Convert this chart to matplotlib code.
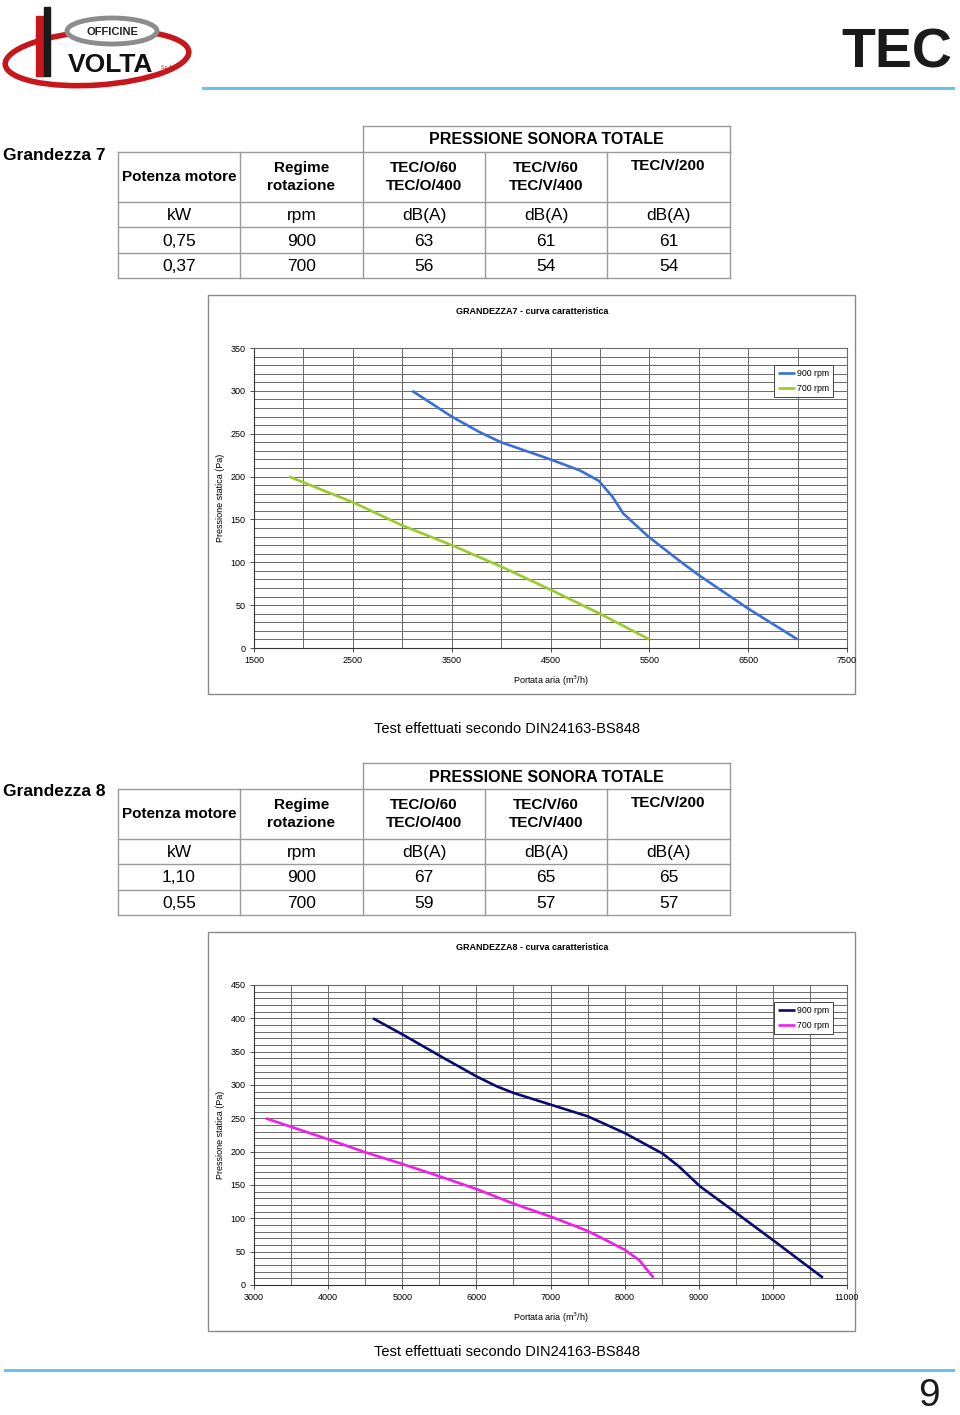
import matplotlib
matplotlib.use("Agg")
import matplotlib.pyplot as plt
from matplotlib.patches import Rectangle, Ellipse

# --- data -------------------------------------------------------------
table_header = ["Potenza motore", "Regime\nrotazione", "TEC/O/60\nTEC/O/400", "TEC/V/60\nTEC/V/400", "TEC/V/200"]
table_units = ["kW", "rpm", "dB(A)", "dB(A)", "dB(A)"]
g7_rows = [["0,75", "900", "63", "61", "61"],
           ["0,37", "700", "56", "54", "54"]]
g8_rows = [["1,10", "900", "67", "65", "65"],
           ["0,55", "700", "59", "57", "57"]]

g7_x900 = [3100, 3500, 3780, 4000, 4500, 4800, 4990, 5130, 5235, 5490, 5790, 6000, 6500, 7000]
g7_y900 = [300, 270, 252, 240, 220, 207, 195, 176, 157, 130, 103, 85, 46, 10]
g7_x700 = [1855, 2500, 3000, 3500, 4000, 4500, 5000, 5500]
g7_y700 = [200, 170, 143, 120, 95, 68, 40, 10]

g8_x900 = [4606, 5017, 5503, 6000, 6274, 6503, 7017, 7503, 8000, 8514, 8731, 9017, 9531, 10017, 10674]
g8_y900 = [400, 375, 344, 313, 298, 288, 270, 253, 228, 197, 178, 148, 106, 66, 11]
g8_x700 = [3160, 3989, 4503, 5017, 5503, 6000, 6503, 7017, 7503, 8000, 8200, 8389]
g8_y700 = [250, 219, 199, 181, 163, 144, 122, 102, 81, 53, 37, 11]

plt.rcParams["font.family"] = ["Liberation Sans", "DejaVu Sans"]

W, H = 960, 1415
fig = plt.figure(figsize=(W / 100, H / 100), dpi=100)
bg = fig.add_axes([0, 0, 1, 1])
bg.set_xlim(0, W)
bg.set_ylim(H, 0)
bg.axis("off")

# --- page header / footer --------------------------------------------
bg.add_patch(Ellipse((97, 58), 184, 54, angle=-4, fill=False, ec="#c8161d", lw=4))
bg.add_patch(Rectangle((36, 16), 8, 60, color="#c8161d"))
bg.add_patch(Rectangle((44, 7), 6, 69, color="#1a1a1a"))
bg.add_patch(Ellipse((112, 31), 90, 26, fc="white", ec="#8c8c8c", lw=3.5))
bg.text(112, 32, "OFFICINE", ha="center", va="center", fontsize=8, fontweight="bold", color="#222222")
bg.text(110, 65, "VOLTA", ha="center", va="center", fontsize=19, fontweight="bold", color="#111111")
bg.text(167, 67, "S.p.A.", ha="center", va="center", fontsize=3.5, color="#c8161d")

bg.text(952, 54, "TEC", ha="right", va="center", fontsize=40, fontweight="bold", color="#1a1a1a")
bg.plot([203, 953], [88, 88], color="#6cc0ea", lw=2.2)
bg.plot([5, 953], [1370, 1370], color="#6cc0ea", lw=2.2)
bg.text(940, 1396, "9", ha="right", va="center", fontsize=28, color="#1a1a1a")

# --- tables -----------------------------------------------------------
cols = [118, 240, 363, 485, 607, 730]
line_c = "#9a9a9a"


def draw_table(y0, title, rows):
    # y0 = top of the "PRESSIONE SONORA TOTALE" box
    bg.text(3, y0 + 29, title, ha="left", va="center", fontsize=12.5, fontweight="bold")
    h_top, h_head = y0 + 26, y0 + 76
    ys = [h_head, h_head + 25, h_head + 51, h_head + 76]
    bg.plot([363, 730], [y0, y0], color=line_c, lw=1)
    bg.plot([363, 363], [y0, h_top], color=line_c, lw=1)
    bg.plot([730, 730], [y0, h_top], color=line_c, lw=1)
    bg.text(546, y0 + 14, "PRESSIONE SONORA TOTALE", ha="center", va="center",
            fontsize=11.5, fontweight="bold")
    for yy in [h_top] + ys:
        bg.plot([cols[0], cols[-1]], [yy, yy], color=line_c, lw=1)
    for xx in cols:
        bg.plot([xx, xx], [h_top, ys[-1]], color=line_c, lw=1)
    for i, lab in enumerate(table_header):
        cx = (cols[i] + cols[i + 1]) / 2
        if "\n" in lab or i == 0:
            bg.text(cx, h_top + 25, lab, ha="center", va="center", fontsize=11,
                    fontweight="bold", linespacing=1.4)
        else:
            bg.text(cx, h_top + 14, lab, ha="center", va="center", fontsize=11,
                    fontweight="bold")
    for r, row in enumerate([table_units] + rows):
        yc = (ys[r] + ys[r + 1]) / 2
        for i, val in enumerate(row):
            cx = (cols[i] + cols[i + 1]) / 2
            bg.text(cx, yc + 1, val, ha="center", va="center", fontsize=12.5)


draw_table(126, "Grandezza 7", g7_rows)
draw_table(763, "Grandezza 8", g8_rows)

bg.text(507, 729, "Test effettuati secondo DIN24163-BS848", ha="center", va="center", fontsize=10.5)
bg.text(507, 1352, "Test effettuati secondo DIN24163-BS848", ha="center", va="center", fontsize=10.5)


# --- charts -----------------------------------------------------------
def draw_chart(box_top, title, xlim, ymax, series):
    bg.add_patch(Rectangle((208, box_top), 647, 399, fill=False, ec="#8a8a8a", lw=1))
    px0, px1 = 254, 847
    py_top, py_bot = box_top + 53, box_top + 353
    ax = fig.add_axes([px0 / W, 1 - py_bot / H, (px1 - px0) / W, (py_bot - py_top) / H])
    ax.set_xlim(*xlim)
    ax.set_ylim(0, ymax)
    ax.set_xticks(range(xlim[0], xlim[1] + 1, 1000))
    ax.set_xticks(range(xlim[0], xlim[1] + 1, 500), minor=True)
    ax.set_yticks(range(0, ymax + 1, 50))
    ax.set_yticks(range(0, ymax + 1, 10), minor=True)
    ax.grid(True, which="both", color="#6a6a6a", lw=0.7)
    ax.set_axisbelow(True)
    for sp in ax.spines.values():
        sp.set_color("#6a6a6a")
        sp.set_linewidth(0.8)
    ax.spines["left"].set_color("#333333")
    ax.spines["bottom"].set_color("#333333")
    ax.tick_params(labelsize=6.5, length=3, width=0.6, color="#333333", pad=3)
    ax.tick_params(which="minor", length=0)
    for x, y, c, lab in series:
        ax.plot(x, y, color=c, lw=1.9, label=lab, solid_capstyle="butt")
    ax.set_xlabel("Portata aria (m$^3$/h)", fontsize=6.5, labelpad=6)
    ax.set_ylabel("Pressione statica (Pa)", fontsize=6.5, labelpad=4)
    bg.text(532, box_top + 16, title, ha="center", va="center", fontsize=6.5, fontweight="bold")
    leg = ax.legend(loc="upper right", bbox_to_anchor=(0.976, 0.943), fontsize=6.3,
                    frameon=True, fancybox=False, handlelength=1.9, handletextpad=0.3,
                    borderpad=0.4, labelspacing=0.75, borderaxespad=0, framealpha=1)
    leg.get_frame().set_edgecolor("#444444")
    leg.get_frame().set_linewidth(0.7)
    return ax


draw_chart(295, "GRANDEZZA7 - curva caratteristica", (1500, 7500), 350,
           [(g7_x900, g7_y900, "#3a6fd8", "900 rpm"), (g7_x700, g7_y700, "#9acb26", "700 rpm")])
draw_chart(932, "GRANDEZZA8 - curva caratteristica", (3000, 11000), 450,
           [(g8_x900, g8_y900, "#0b0b6e", "900 rpm"), (g8_x700, g8_y700, "#f21ee8", "700 rpm")])

fig.savefig("out.png", dpi=100)
